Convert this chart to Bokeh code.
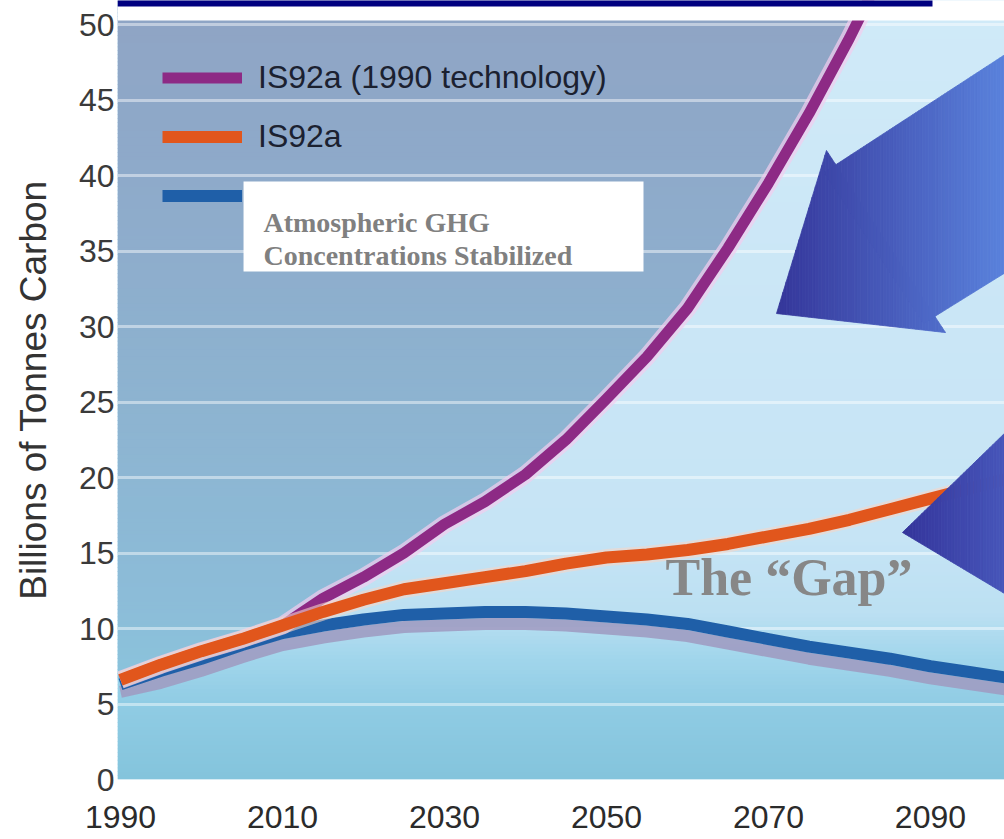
import numpy as np
from bokeh.plotting import figure
from bokeh.models import FixedTicker, Legend, LegendItem, Label, BoxAnnotation
from bokeh.embed import file_html
from bokeh.resources import INLINE

# ---------------- data ----------------
years = [1990, 1995, 2000, 2005, 2010, 2015, 2020, 2025, 2030, 2035, 2040, 2045,
         2050, 2055, 2060, 2065, 2070, 2075, 2080, 2085, 2090, 2095, 2100]
purple_years = [1990, 1995, 2000, 2005, 2010, 2015, 2020, 2025, 2030, 2035, 2040,
                2045, 2050, 2055, 2060, 2065, 2070, 2075, 2080, 2085]
is92a_1990tech = [6.6, 7.6, 8.5, 9.3, 10.2, 12.0, 13.4, 15.0, 16.9, 18.4, 20.2,
                  22.5, 25.2, 28.0, 31.2, 35.2, 39.5, 44.1, 49.1, 54.5]
is92a = [6.6, 7.6, 8.5, 9.3, 10.2, 11.1, 11.9, 12.6, 13.0, 13.4, 13.8, 14.3,
         14.7, 14.9, 15.2, 15.6, 16.1, 16.6, 17.2, 17.9, 18.6, 19.3, 20.0]
stabilized = [6.3, 7.2, 8.0, 8.9, 9.7, 10.2, 10.6, 10.9, 11.0, 11.1, 11.1, 11.0,
              10.8, 10.6, 10.3, 9.8, 9.3, 8.8, 8.4, 8.0, 7.5, 7.1, 6.7]
stabilized_shadow = [5.8, 6.4, 7.2, 8.1, 8.9, 9.4, 9.8, 10.1, 10.2, 10.3, 10.3, 10.2,
                     10.0, 9.8, 9.5, 9.0, 8.5, 8.0, 7.6, 7.2, 6.7, 6.3, 5.9]
x_ticks = [1990, 2010, 2030, 2050, 2070, 2090]
y_ticks = [0, 5, 10, 15, 20, 25, 30, 35, 40, 45, 50]

legend_labels = ["IS92a (1990 technology)", "IS92a", " "]
box_lines = ["Atmospheric GHG", "Concentrations Stabilized"]
gap_label = "The \u201cGap\u201d"
y_label = "Billions of Tonnes Carbon"

# ---------------- annotation geometry (data units) ----------------
X0, X1 = 1989.63, 2099.14
Y0, Y1 = 0.0, 51.59
arrow1_head = [(2070.99, 30.86), (2077.16, 41.66), (2091.85, 29.60)]
arrow1_shaft = [(2076.85, 40.20), (2106.05, 50.40), (2106.05, 35.83), (2089.16, 30.21)]
arrow2_head = [(2086.54, 16.36), (2106.05, 26.52), (2106.05, 10.10)]


def hex2rgb(h):
    h = h.lstrip("#")
    return np.array([int(h[i:i + 2], 16) for i in (0, 2, 4)], float)


def ramp(stops, v):
    vs = [s[0] for s in stops]
    cs = [hex2rgb(s[1]) for s in stops]
    if v <= vs[0]:
        c = cs[0]
    elif v >= vs[-1]:
        c = cs[-1]
    else:
        for i in range(len(vs) - 1):
            if vs[i] <= v <= vs[i + 1]:
                t = (v - vs[i]) / (vs[i + 1] - vs[i])
                c = cs[i] * (1 - t) + cs[i + 1] * t
                break
    return "#%02x%02x%02x" % tuple(int(round(x)) for x in c)


def clip_poly(poly, lo, hi, axis=0):
    """Clip a polygon to the slab lo <= coord[axis] <= hi."""
    o = 1 - axis

    def clip(pts, inside, inter):
        out = []
        for i in range(len(pts)):
            cur, prev = pts[i], pts[i - 1]
            if inside(cur):
                if not inside(prev):
                    out.append(inter(prev, cur))
                out.append(cur)
            elif inside(prev):
                out.append(inter(prev, cur))
        return out

    def ix(c):
        def f(a, b):
            t = (c - a[axis]) / (b[axis] - a[axis])
            q = [0.0, 0.0]
            q[axis] = c
            q[o] = a[o] + t * (b[o] - a[o])
            return tuple(q)
        return f

    pts = clip(poly, lambda q: q[axis] >= lo, ix(lo))
    if not pts:
        return []
    return clip(pts, lambda q: q[axis] <= hi, ix(hi))


p = figure(width=1004, height=839, x_range=(X0, X1), y_range=(Y0, Y1),
           output_backend="svg", toolbar_location=None, title=None,
           min_border_left=117, min_border_right=0, min_border_top=0,
           min_border_bottom=60, background_fill_color="white",
           border_fill_color="white", outline_line_color=None)

# axes
for ax in (p.xaxis[0], p.yaxis[0]):
    ax.axis_line_color = None
    ax.major_tick_line_color = None
    ax.minor_tick_line_color = None
    ax.major_tick_out = 0
    ax.major_tick_in = 0
    ax.major_label_text_font = "Liberation Sans"
p.xaxis.ticker = FixedTicker(ticks=x_ticks)
p.xaxis.major_label_text_font_size = "32px"
p.xaxis.major_label_text_color = "#2b2b2b"
p.xaxis.major_label_standoff = 26
p.yaxis.ticker = FixedTicker(ticks=y_ticks)
p.yaxis.major_label_text_font_size = "32px"
p.yaxis.major_label_text_color = "#3a3a3a"
p.yaxis.major_label_standoff = 3
p.yaxis.axis_label = y_label
p.yaxis.axis_label_text_font = "Liberation Sans"
p.yaxis.axis_label_text_font_size = "37px"
p.yaxis.axis_label_text_font_style = "normal"
p.yaxis.axis_label_text_color = "#333333"
p.yaxis.axis_label_standoff = 22

p.xgrid.visible = False
p.ygrid.ticker = FixedTicker(ticks=y_ticks)
p.ygrid.grid_line_color = "white"
p.ygrid.grid_line_alpha = 0.45
p.ygrid.grid_line_width = 3

# background gradient bands (solid base first to hide seams)
bg_stops = [(0, "#84c4dc"), (5, "#90cce4"), (8, "#a2d6ec"), (11, "#bce0f2"),
            (16, "#c6e4f5"), (30, "#cae6f6"), (51.6, "#d0eaf8")]
p.quad(left=X0, right=X1, bottom=Y0, top=Y1, fill_color="#c2e2f3", line_color=None,
       level="image")
bands = np.arange(0, Y1, 0.25)
p.quad(left=X0, right=X1, bottom=bands, top=bands + 0.3,
       fill_color=[ramp(bg_stops, b) for b in bands], line_color=None, level="image")

# grey-blue region above the 1990-technology curve, with vertical gradient
grey_stops = [(6, "#8ac4dc"), (12, "#8cbcd8"), (25, "#8db3d0"), (40, "#8eaaca"),
              (51.6, "#8fa4c4")]
ytop = max(max(is92a_1990tech), Y1) + 1
region = [(X0, is92a_1990tech[0])] + list(zip(purple_years, is92a_1990tech)) + \
         [(purple_years[-1], ytop), (X0, ytop)]
gx, gy, gc = [], [], []
for a in np.arange(6.0, Y1, 0.25):
    piece = clip_poly(region, a, a + 0.3, axis=1)
    if piece:
        gx.append([q[0] for q in piece])
        gy.append([q[1] for q in piece])
        gc.append(ramp(grey_stops, a))
p.patches(gx, gy, fill_color=gc, line_color=None, level="image")

# series
p.line(years, stabilized_shadow, line_color="#9e9cc2", line_width=12, line_alpha=0.9,
       line_join="round")
r_blue = p.line(years, stabilized, line_color="#1f5fa8", line_width=12, line_join="round")
p.line(purple_years, is92a_1990tech, line_color="#f2cdee", line_width=18, line_alpha=0.7,
       line_join="round")
r_purple = p.line(purple_years, is92a_1990tech, line_color="#8d2a85", line_width=11,
                  line_join="round")
p.line(years, is92a, line_color="#f6d6c6", line_width=17, line_alpha=0.6, line_join="round")
r_orange = p.line(years, is92a, line_color="#e1561c", line_width=12, line_join="round")

# top white strip and navy bar
p.quad(left=X0, right=X1, bottom=50.26, top=Y1 + 0.5, fill_color="white", line_color=None)
p.quad(left=X0, right=2090.25, bottom=51.19, top=Y1 + 0.5, fill_color="#000080",
       line_color=None)

# gradient arrows (convex pieces sliced into vertical strips)
for pieces, c0, c1 in (((arrow1_head, arrow1_shaft), "#35369a", "#5a82dc"),
                       ((arrow2_head,), "#34349a", "#4756ba")):
    xmin = min(q[0] for poly in pieces for q in poly)
    xs, ys, cs = [], [], []
    for poly in pieces:
        x = xmin
        while x < X1 + 0.5:
            piece = clip_poly(poly, x, x + 0.4, axis=0)
            if piece:
                xs.append([q[0] for q in piece])
                ys.append([q[1] for q in piece])
                cs.append(ramp([(xmin, c0), (X1, c1)], x + 0.2))
            x += 0.4
    p.patches(xs, ys, fill_color=cs, line_color=cs, line_width=0.8)

# legend
legend = Legend(items=[LegendItem(label=legend_labels[0], renderers=[r_purple]),
                       LegendItem(label=legend_labels[1], renderers=[r_orange]),
                       LegendItem(label=legend_labels[2], renderers=[r_blue])],
                location=(45, 565), orientation="vertical", padding=0, margin=0,
                spacing=22, glyph_width=80, glyph_height=37, label_standoff=16,
                label_text_font="Liberation Sans", label_text_font_size="32px",
                label_text_color="#1b2130", background_fill_alpha=0,
                border_line_alpha=0, label_height=37)
p.add_layout(legend)

# white text box
p.add_layout(BoxAnnotation(left=2005.19, right=2054.57, top=39.60, bottom=33.64,
                           fill_color="white", fill_alpha=1.0, line_alpha=0))
for txt, yy in zip(box_lines, (36.91, 34.70)):
    p.add_layout(Label(x=2007.65, y=yy, text=txt, text_font="Liberation Serif",
                       text_font_style="bold", text_font_size="28px",
                       text_color="#808080", text_baseline="alphabetic"))

p.add_layout(Label(x=2057.28, y=13.38, text=gap_label, text_font="Liberation Serif",
                   text_font_style="bold", text_font_size="52px", text_color="#878787",
                   text_baseline="alphabetic"))

open("out.html", "w").write(file_html(p, INLINE))
